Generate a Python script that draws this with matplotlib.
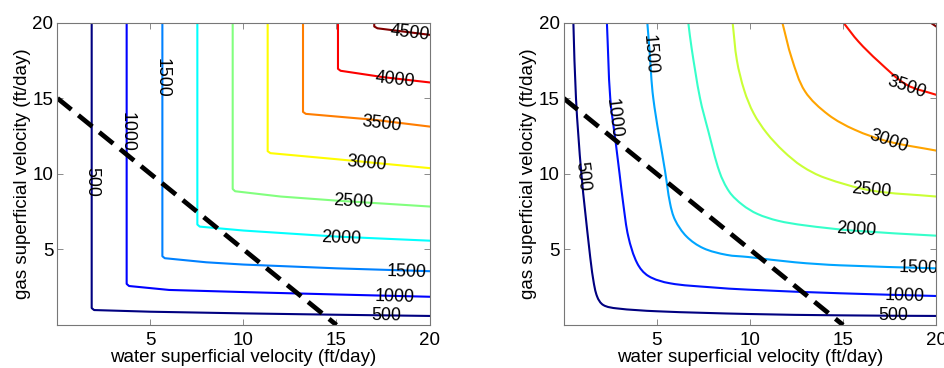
import numpy as np
import matplotlib
matplotlib.use("Agg")
import matplotlib.pyplot as plt
from matplotlib.colors import LinearSegmentedColormap
from matplotlib.path import Path
from matplotlib.patches import PathPatch

plt.rcParams['font.family'] = ['Liberation Sans', 'DejaVu Sans']

# contour levels
left_levels = [500, 1000, 1500, 2000, 2500, 3000, 3500, 4000, 4500]
right_levels = [500, 1000, 1500, 2000, 2500, 3000, 3500, 4000]

# left panel: contour lines (x = water, y = gas)
left_x = [
    [1.84, 1.84, 1.97, 5, 10, 15, 20],
    [3.72, 3.72, 3.85, 6, 10, 15, 20],
    [5.64, 5.64, 5.77, 8, 10, 15, 20],
    [7.52, 7.52, 7.65, 10, 15, 20],
    [9.42, 9.42, 9.55, 12, 15, 20],
    [11.3, 11.3, 11.45, 15, 20],
    [13.2, 13.2, 13.35, 17, 20],
    [15.08, 15.08, 15.22, 17.5, 20],
    [17.03, 17.03, 17.2, 20],
]
left_y = [
    [20, 1.12, 0.99, 0.88, 0.77, 0.68, 0.60],
    [20, 2.72, 2.58, 2.32, 2.18, 2.02, 1.87],
    [20, 4.55, 4.42, 4.15, 4.0, 3.75, 3.56],
    [20, 6.65, 6.51, 6.25, 5.85, 5.58],
    [20, 9.0, 8.85, 8.5, 8.23, 7.84],
    [20, 11.5, 11.37, 10.97, 10.38],
    [20, 14.1, 13.97, 13.58, 13.13],
    [20, 16.95, 16.82, 16.4, 16.05],
    [20, 19.75, 19.63, 19.2],
]

# right panel: contour lines
right_x = [
    [0.52, 0.66, 0.95, 1.38, 1.59, 1.80, 2.13, 2.85, 5.0, 9.9, 14.84, 20],
    [2.32, 2.5, 2.8, 3.0, 3.2, 3.47, 3.95, 4.55, 5.71, 7.86, 9.9, 14.84, 20],
    [4.49, 4.6, 4.81, 5.44, 5.71, 5.98, 6.6, 7.5, 8.75, 9.9, 12.42, 14.84, 20],
    [6.69, 6.87, 7.32, 7.77, 8.36, 8.9, 9.6, 10.4, 11.5, 12.9, 15.5, 20],
    [9.07, 9.3, 9.7, 10.2, 10.9, 11.8, 12.8, 14.0, 16.5, 20],
    [11.74, 12.24, 12.96, 14.21, 15.64, 17.43, 20],
    [15.02, 15.82, 16.9, 18.42, 20],
    [19.7, 20],
]
right_y = [
    [20, 15, 10.0, 4.97, 2.98, 1.87, 1.32, 1.10, 0.91, 0.73, 0.64, 0.60],
    [20, 15, 12, 10, 8, 5.85, 4.08, 3.24, 2.76, 2.5, 2.34, 2.10, 1.92],
    [20, 18.3, 15, 10.2, 8.06, 6.95, 5.85, 5.08, 4.64, 4.5, 4.15, 3.95, 3.75],
    [20, 18.3, 15, 12.8, 10.15, 8.8, 7.95, 7.35, 6.9, 6.6, 6.25, 5.91],
    [20, 17.5, 15.5, 14.0, 12.7, 11.5, 10.5, 9.75, 8.9, 8.5],
    [20, 17.66, 15.45, 13.91, 12.91, 12.14, 11.54],
    [20, 18.76, 17.44, 15.89, 15.23],
    [20, 19.75],
]

# dashed line x + y = 15
dash_x = [0, 15]
dash_y = [15, 0]

# label placements: (level index, x, y)
left_labels = [(8, 18.95, 19.32), (7, 18.15, 16.2), (6, 17.43, 13.31),
               (5, 16.62, 10.66), (4, 15.9, 8.13), (3, 15.23, 5.76),
               (2, 18.77, 3.53), (1, 18.15, 1.87), (0, 17.7, 0.6),
               (2, 5.64, 16.34), (1, 3.72, 12.8), (0, 1.84, 9.49)]
right_labels = [(6, 18.42, 15.74), (5, 17.43, 12.14), (4, 16.54, 8.94),
                (3, 15.7, 6.29), (2, 19.03, 3.75), (1, 18.33, 1.92),
                (0, 17.7, 0.6), (2, 4.63, 17.88), (1, 2.7, 13.69),
                (0, 1.02, 9.82)]

mjet = LinearSegmentedColormap('mjet', {
    'red': [(0, 0, 0), (3/8, 0, 0), (5/8, 1, 1), (7/8, 1, 1), (1, .5, .5)],
    'green': [(0, 0, 0), (1/8, 0, 0), (3/8, 1, 1), (5/8, 1, 1), (7/8, 0, 0), (1, 0, 0)],
    'blue': [(0, .5, .5), (1/8, 1, 1), (3/8, 1, 1), (5/8, 0, 0), (1, 0, 0)],
})


def label_angle(ax, xs, ys, lx, ly):
    pts = ax.transData.transform(np.column_stack([xs, ys]))
    p = ax.transData.transform((lx, ly))
    best, ang = None, 0
    for i in range(len(pts) - 1):
        a, b = pts[i], pts[i + 1]
        d = b - a
        t = np.clip(np.dot(p - a, d) / max(np.dot(d, d), 1e-9), 0, 1)
        dist = np.hypot(*(a + t * d - p))
        if best is None or dist < best:
            best = dist
            ang = np.degrees(np.arctan2(d[1], d[0]))
    while ang >= 90:
        ang -= 180
    while ang < -90:
        ang += 180
    return ang


def smooth_path(xs, ys):
    # bezier through the read points (tangent from neighbours)
    P = np.column_stack([xs, ys]).astype(float)
    n = len(P)
    T = np.zeros_like(P)
    for i in range(n):
        d = P[min(i + 1, n - 1)] - P[max(i - 1, 0)]
        T[i] = d / np.hypot(*d)
    verts, codes = [P[0]], [Path.MOVETO]
    for i in range(n - 1):
        L = np.hypot(*(P[i + 1] - P[i]))
        verts += [P[i] + T[i] * L / 3, P[i + 1] - T[i + 1] * L / 3, P[i + 1]]
        codes += [Path.CURVE4] * 3
    return Path(verts, codes)


def panel(ax, levels, xs_all, ys_all, labels, smooth):
    ax.set_xlim(0, 20)
    ax.set_ylim(0, 20)
    n = len(levels)
    for i, (xs, ys) in enumerate(zip(xs_all, ys_all)):
        c = mjet(i / (n - 1))
        if smooth and len(xs) > 2:
            ax.add_patch(PathPatch(smooth_path(xs, ys), fill=False, edgecolor=c, lw=1.5))
        else:
            ax.plot(xs, ys, color=c, lw=1.5, solid_joinstyle='round')
    ax.plot(dash_x, dash_y, color='black', lw=3.4, dashes=(3.8, 1.9))
    for k, lx, ly in labels:
        rot = label_angle(ax, xs_all[k], ys_all[k], lx, ly)
        ax.text(lx, ly, str(levels[k]), rotation=rot, rotation_mode='anchor',
                ha='center', va='center', fontsize=12.8, clip_on=True)
    ax.set_xticks([5, 10, 15, 20])
    ax.set_yticks([5, 10, 15, 20])
    ax.tick_params(direction='in', top=True, right=True, length=4,
                   width=0.6, color='#777777', labelsize=13.5)
    ax.tick_params(axis='x', pad=5)
    ax.tick_params(axis='y', pad=3)
    for s in ax.spines.values():
        s.set_color('#777777')
        s.set_linewidth(0.8)
    ax.set_xlabel('water superficial velocity (ft/day)', fontsize=13.5, labelpad=0)
    ax.set_ylabel('gas superficial velocity (ft/day)', fontsize=13.5, labelpad=1)


fig = plt.figure(figsize=(9.45, 3.68), dpi=100)
ax1 = fig.add_axes([0.0608, 0.1168, 0.3937, 0.8215])
ax2 = fig.add_axes([0.5965, 0.1168, 0.3942, 0.8215])
panel(ax1, left_levels, left_x, left_y, left_labels, False)
panel(ax2, right_levels, right_x, right_y, right_labels, True)

fig.savefig('out.png', dpi=100)
